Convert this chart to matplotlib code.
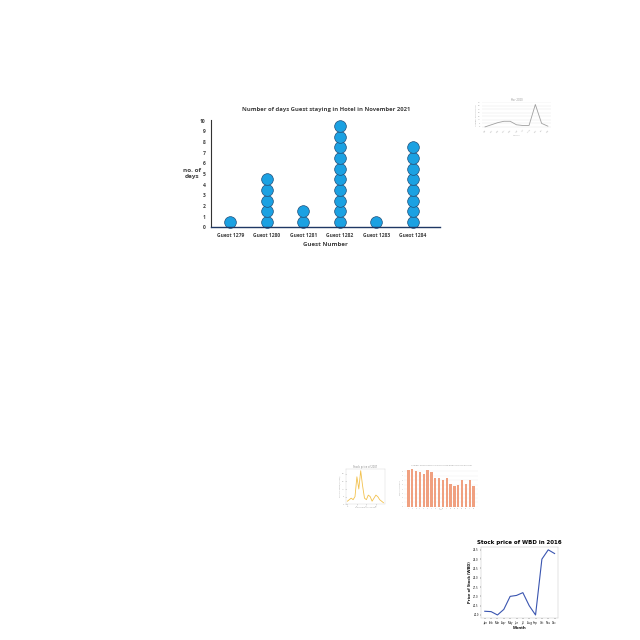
import matplotlib
matplotlib.use("Agg")
import matplotlib.pyplot as plt
import numpy as np

plt.rcParams['font.family'] = ['Open Sans', 'DejaVu Sans']

# main dot plot
guests = ['Guest 1279', 'Guest 1280', 'Guest 1281', 'Guest 1282', 'Guest 1283', 'Guest 1284']
days = [1, 5, 2, 10, 1, 8]

# thumbnail: Year 2020
year_labels = ['Jan', 'Feb', 'Mar', 'Apr', 'May', 'Jun', 'Jul', 'Aug', 'Sep', 'Oct', 'Nov']
year_values = [0, 3, 6, 8, 8, 3, 2, 2, 32, 5, 1]

# thumbnail: stock price of 2001
stock01_values = [2, 3, 4, 3, 5, 18, 10, 22, 12, 4, 3, 6, 5, 2, 4, 6, 5, 3, 2, 1]

# thumbnail: bar chart
bar_values = [8.4, 8.5, 8.0, 7.9, 7.4, 8.4, 7.8, 6.4, 6.5, 6.0, 6.6, 5.2, 4.7, 5.0, 6.1, 5.1, 6.0, 4.6]

# thumbnail: WBD 2016
months = ['Jan', 'Feb', 'Mar', 'Apr', 'May', 'Jun', 'Jul', 'Aug', 'Sep', 'Oct', 'Nov', 'Dec']
wbd_price = [20.2, 20.18, 20.0, 20.3, 21.0, 21.05, 21.2, 20.5, 20.0, 23.0, 23.5, 23.3]

fig = plt.figure(figsize=(6.4, 6.4), dpi=100)
fig.patch.set_facecolor('white')

# ---- main chart ----
ax = fig.add_axes([0.330, 0.645, 0.358, 0.167])
for i, n in enumerate(days):
    ax.plot([i] * n, np.arange(n) + 0.5, 'o', markersize=8.4, clip_on=False,
            markerfacecolor='#1BA1E2', markeredgecolor='#1f4e79', markeredgewidth=0.5)
ax.set_xlim(-0.52, 5.75)
ax.set_ylim(0, 10.05)
ax.set_xticks(range(len(guests)))
ax.set_xticklabels(guests, fontsize=3.6, fontweight='bold', color='#404040')
ax.set_yticks(range(11))
ax.set_yticklabels([str(v) for v in range(11)], fontsize=3.6, fontweight='bold', color='#404040')
ax.tick_params(length=0, pad=4)
for s in ['top', 'right']:
    ax.spines[s].set_visible(False)
ax.spines['left'].set_color('#333333')
ax.spines['bottom'].set_color('#1f3864')
ax.spines['bottom'].set_linewidth(1.0)
ax.set_title('Number of days Guest staying in Hotel in November 2021', fontsize=4.2,
             fontweight='bold', color='#404040', pad=7)
ax.set_xlabel('Guest Number', fontsize=4.4, fontweight='bold', color='#404040', labelpad=3)
ax.set_ylabel('no. of\ndays', fontsize=4.6, fontweight='bold', color='#404040',
              rotation=0, ha='center', va='center', labelpad=6)

# ---- thumbnail: Year 2020 ----
ax1 = fig.add_axes([0.753, 0.80, 0.108, 0.04])
ax1.plot(range(len(year_values)), year_values, color='#a0a0a0', linewidth=0.6)
ax1.set_title('Year 2020', fontsize=2, color='#909090', pad=1)
ax1.set_xticks(range(len(year_labels)))
ax1.set_xticklabels(year_labels, fontsize=1.5, rotation=45, color='#a0a0a0')
ax1.set_yticks([0, 5, 10, 15, 20, 25, 30, 35])
ax1.set_yticklabels([str(v) for v in [0, 5, 10, 15, 20, 25, 30, 35]], fontsize=1.5, color='#a0a0a0')
ax1.grid(axis='y', color='#e6e6e6', linewidth=0.3)
ax1.tick_params(length=0, pad=1)
ax1.set_xlabel('Months', fontsize=1.5, color='#a0a0a0', labelpad=1)
ax1.set_ylabel('Number of customers', fontsize=1.5, color='#a0a0a0', labelpad=1)
for s in ax1.spines.values():
    s.set_visible(False)

# ---- thumbnail: Stock price of 2001 ----
ax2 = fig.add_axes([0.540, 0.212, 0.062, 0.055])
ax2.plot(range(len(stock01_values)), stock01_values, color='#f2c14e', linewidth=0.6)
ax2.set_title('Stock price of 2001', fontsize=2, color='#808080', pad=1)
ax2.tick_params(length=0.5, width=0.2, labelsize=1.5, labelcolor='#a0a0a0', pad=0.5)
ax2.set_xlabel('Days from Nov to Dec', fontsize=1.5, color='#a0a0a0', labelpad=0.5)
ax2.set_ylabel('Price of stock (in USD)', fontsize=1.5, color='#a0a0a0', labelpad=0.5)
for s in ax2.spines.values():
    s.set_linewidth(0.2)
    s.set_color('#c0c0c0')

# ---- thumbnail: bar chart ----
ax3 = fig.add_axes([0.631, 0.208, 0.116, 0.062])
ax3.bar(range(len(bar_values)), bar_values, width=0.6, color='#f0a080')
ax3.set_title('Number of students enrolled in online programmes each year', fontsize=1.5,
              color='#909090', pad=1)
ax3.set_xticks(range(len(bar_values)))
ax3.set_xticklabels([str(i + 1) for i in range(len(bar_values))], fontsize=1.2, color='#a0a0a0')
ax3.tick_params(length=0, labelsize=1.2, labelcolor='#a0a0a0', pad=0.5)
ax3.grid(axis='y', color='#eeeeee', linewidth=0.3)
ax3.set_axisbelow(True)
ax3.set_xlabel('Year', fontsize=1.2, color='#a0a0a0', labelpad=0.5)
ax3.set_ylabel('Number of students', fontsize=1.2, color='#a0a0a0', labelpad=0.5)
for s in ax3.spines.values():
    s.set_visible(False)

# ---- thumbnail: WBD 2016 ----
ax4 = fig.add_axes([0.752, 0.034, 0.120, 0.112])
ax4.plot(range(len(months)), wbd_price, color='#3a55b0', linewidth=0.8)
ax4.set_title('Stock price of WBD in 2016', fontsize=4, fontweight='bold', pad=2,
              family=['Liberation Sans Narrow', 'DejaVu Sans'])
ax4.set_xticks(range(len(months)))
ax4.set_xticklabels(months, fontsize=2)
ax4.set_yticks([20.0, 20.5, 21.0, 21.5, 22.0, 22.5, 23.0, 23.5])
ax4.set_yticklabels(['20.0', '20.5', '21.0', '21.5', '22.0', '22.5', '23.0', '23.5'], fontsize=2)
ax4.tick_params(length=0.8, width=0.3, pad=1)
ax4.set_xlabel('Month', fontsize=3, fontweight='bold', labelpad=1)
ax4.set_ylabel('Price of Stock (WBD)', fontsize=3, fontweight='bold', labelpad=1)
for s in ax4.spines.values():
    s.set_linewidth(0.3)
    s.set_color('#c0c0c0')

fig.savefig('out.png', dpi=100)
